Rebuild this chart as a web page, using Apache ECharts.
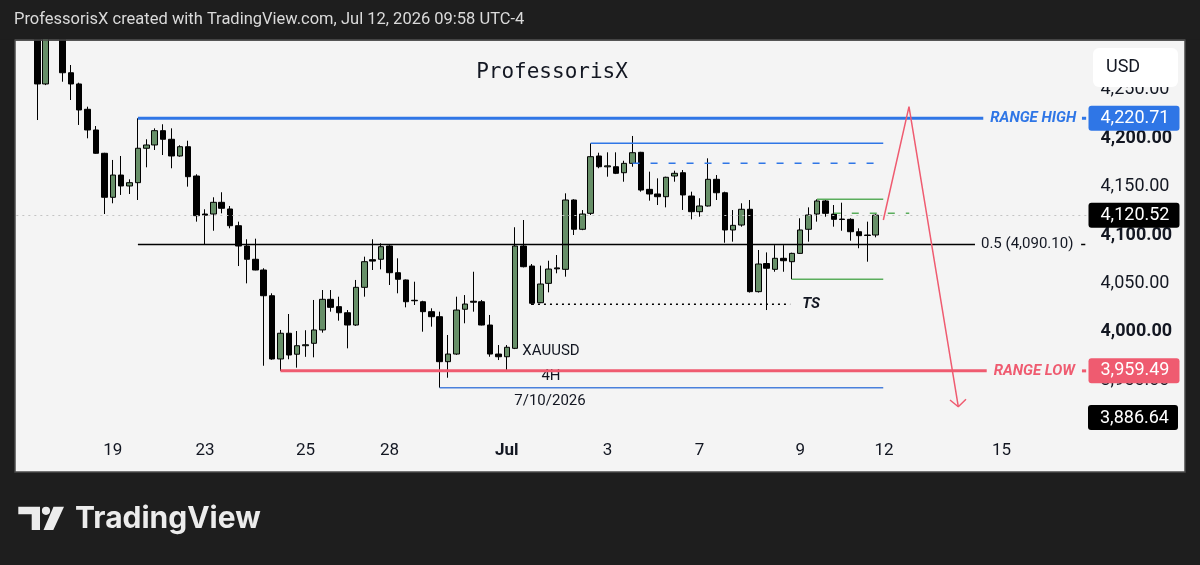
<!DOCTYPE html>
<html>
<head>
<meta charset="utf-8">
<title>XAUUSD 4H - ProfessorisX</title>
<script src="https://cdn.jsdelivr.net/npm/echarts@6/dist/echarts.min.js"></script>
<style>
html, body { margin: 0; padding: 0; background: #1e1e1e; }
#chart { width: 1200px; height: 565px; }
</style>
</head>
<body>
<div id="chart"></div>
<script>
// XAUUSD 4H candles, oldest first
var opens = [4310, 4256.2, 4318, 4308, 4267.8, 4256.2, 4230.0, 4208.6, 4184.5, 4139.0,
  4162.0, 4150.7, 4154.1, 4189.7, 4193.1, 4207.9, 4199.0, 4181.7, 4191.3, 4161.0,
  4121.7, 4121.7, 4133.8, 4126.9, 4109.6, 4088.6, 4074.9, 4063.8, 4037.2, 3971.8,
  3998.4, 3976.7, 3985.5, 3988.0, 4001.8, 4033.5, 4025.9, 4019.6, 4006.9, 4045.9,
  4074.5, 4074.9, 4088.6, 4061.0, 4053.5, 4032.5, 4031.0, 4020.7, 4015.5, 3969.0,
  3976.9, 4023.2, 4031.5, 4031.0, 4006.9, 3976.9, 3974.1, 3982.8, 4088.6, 4067.9,
  4030.0, 4050.0, 4066.0, 4064.5, 4136.2, 4105.9, 4122.4, 4181.7, 4170.5, 4170.6,
  4164.4, 4174.1, 4185.5, 4147.2, 4142.4, 4139.6, 4161.0, 4164.4, 4140.3, 4124.1,
  4130.0, 4157.6, 4143.7, 4105.2, 4110.3, 4126.6, 4041.4, 4070.5, 4064.5, 4075.9,
  4072.4, 4081.0, 4105.9, 4121.7, 4135.2, 4121.7, 4116.5, 4116.2, 4103.4, 4100.0,
  4100.0];
var highs = [4322, 4318, 4340, 4315, 4275.8, 4257.5, 4232.7, 4212.7, 4185.0, 4177.6,
  4181.7, 4157.6, 4220.71, 4199.0, 4210.3, 4214.5, 4210.3, 4192.8, 4197.5, 4162.8,
  4126.6, 4139.0, 4144.2, 4130.0, 4113.8, 4095.6, 4096.2, 4065.6, 4039.7, 4001.8,
  4018.3, 4000.7, 4001.5, 4032.8, 4043.1, 4043.1, 4036.2, 4022.4, 4053.5, 4077.6,
  4095.6, 4091.4, 4089.5, 4075.9, 4054.0, 4051.7, 4032.0, 4024.2, 4020.7, 3996.6,
  4036.2, 4037.9, 4062.0, 4032.8, 4017.3, 3986.2, 3986.2, 4108.0, 4115.5, 4070.0,
  4068.3, 4073.4, 4079.3, 4143.1, 4137.0, 4125.8, 4194.8, 4185.1, 4185.5, 4185.5,
  4176.8, 4202.4, 4186.0, 4165.5, 4158.6, 4160.3, 4166.5, 4167.2, 4144.8, 4138.0,
  4179.3, 4162.0, 4144.8, 4125.8, 4132.8, 4136.2, 4084.5, 4082.0, 4089.5, 4089.5,
  4081.7, 4117.3, 4128.6, 4136.9, 4136.2, 4131.0, 4133.4, 4117.3, 4106.9, 4113.8,
  4121.5];
var lows = [4218.9, 4255, 4305, 4258.5, 4239.6, 4213.8, 4200.0, 4184.0, 4121.7, 4132.8,
  4141.4, 4142.4, 4136.2, 4170.0, 4187.9, 4182.7, 4169.0, 4181.0, 4150.0, 4113.8,
  4090.7, 4104.4, 4122.4, 4106.9, 4067.9, 4050.0, 4063.5, 3964.8, 3971.0, 3959.49,
  3971.5, 3962.8, 3974.0, 3973.5, 3999.0, 4020.7, 4011.4, 3982.8, 4006.0, 4036.2,
  4063.8, 4064.5, 4048.3, 4039.7, 4025.2, 4027.6, 4000.0, 4005.2, 3942.1, 3952.4,
  3976.0, 4008.7, 4020.7, 4006.5, 3974.1, 3970.7, 3959.7, 3982.0, 4066.5, 4027.6,
  4029.5, 4040.7, 4060.4, 4056.9, 4100.0, 4105.0, 4120.7, 4169.0, 4160.3, 4163.0,
  4155.1, 4170.6, 4144.8, 4135.5, 4131.0, 4128.6, 4155.1, 4125.9, 4116.2, 4118.9,
  4129.5, 4136.2, 4092.0, 4093.1, 4108.6, 4040.5, 4040.5, 4022.4, 4062.0, 4062.0,
  4054.2, 4080.5, 4093.1, 4113.8, 4118.9, 4108.6, 4104.4, 4094.1, 4086.3, 4072.4,
  4097.6];
var closes = [4256.2, 4308, 4312, 4267.8, 4256.2, 4229.3, 4208.6, 4184.5, 4139.0, 4162.0,
  4150.7, 4154.1, 4189.7, 4193.1, 4207.9, 4199.0, 4181.7, 4191.3, 4160.3, 4120.0,
  4120.5, 4133.8, 4127.6, 4109.6, 4088.6, 4074.9, 4063.8, 4037.2, 3971.8, 3998.4,
  3975.9, 3985.5, 3986.5, 4001.8, 4033.5, 4025.2, 4019.6, 4006.9, 4045.9, 4072.4,
  4073.0, 4087.9, 4061.0, 4054.2, 4031.0, 4032.0, 4020.7, 4015.5, 3969.0, 3976.9,
  4022.4, 4028.6, 4030.5, 4006.9, 3976.9, 3974.1, 3983.9, 4088.6, 4067.2, 4029.4,
  4049.3, 4064.8, 4065.0, 4136.2, 4105.9, 4121.7, 4181.0, 4170.6, 4171.5, 4163.8,
  4174.1, 4185.1, 4146.5, 4142.4, 4139.6, 4159.7, 4163.8, 4141.4, 4124.1, 4130.0,
  4157.6, 4143.7, 4105.2, 4110.0, 4126.6, 4041.4, 4070.0, 4065.6, 4075.9, 4073.4,
  4081.0, 4105.2, 4120.7, 4135.2, 4122.4, 4116.2, 4116.0, 4103.4, 4099.3, 4099.5,
  4120.52];

// time scale: bar index of each date label
var tickBars = [9, 20, 32, 42, 56, 68, 79, 91, 101, 115];
var tickText = ['19', '23', '25', '28', 'Jul', '3', '7', '9', '12', '15'];

// price scale
var yMin = 3900, yMax = 4300, yStep = 50;

// key levels
var rangeHigh = 4220.71;
var rangeLow = 3959.49;
var midLevel = 4090.10;
var lastPrice = 4120.52;
var targetPrice = 3886.64;

var LEAD = 2;      // empty slots before the first bar
var SLOTS = 128;   // slots visible on the time scale

var BLUE = '#2f76e6', RED = '#ef5b70', GREEN = '#5aad5c', INK = '#131722';

function fmt(v) {
  var p = v.toFixed(2).split('.');
  return p[0].replace(/\B(?=(\d{3})+(?!\d))/g, ',') + '.' + p[1];
}

var cats = [];
for (var i = 0; i < SLOTS; i++) cats.push('');
tickBars.forEach(function (b, j) { cats[b + LEAD] = tickText[j]; });

var candles = cats.map(function (c, i) {
  var k = i - LEAD;
  if (k < 0 || k >= opens.length) return '-';
  return [opens[k], closes[k], lows[k], highs[k]];
});

// drawing tools, x in bar index
function seg(points, style, label) {
  var s = {
    type: 'line',
    xAxisIndex: 1,
    yAxisIndex: 0,
    data: points.map(function (p) { return [p[0] + LEAD, p[1]]; }),
    symbol: 'none',
    silent: true,
    z: 4,
    lineStyle: style
  };
  if (label) s.endLabel = label;
  return s;
}
function tagLabel(text, color, bold) {
  return {
    show: true, formatter: text, color: color, fontFamily: 'Roboto', fontSize: 15,
    fontWeight: bold ? 'bold' : 'normal', fontStyle: bold ? 'italic' : 'normal', distance: 7
  };
}
function priceTag(v, bg) {
  return {
    yAxis: v,
    lineStyle: { color: 'transparent', width: 0 },
    label: {
      show: true, position: 'end', distance: -1, formatter: fmt(v),
      color: '#fff', backgroundColor: bg, fontFamily: 'Roboto', fontSize: 18, lineHeight: 18,
      padding: [4, 10, 3, 12], borderRadius: 3
    }
  };
}

var series = [
  {
    type: 'candlestick',
    data: candles,
    barWidth: 6,
    clip: true,
    itemStyle: { color: '#678f68', color0: '#000', borderColor: '#000', borderColor0: '#000', borderWidth: 1 },
    markLine: {
      silent: true,
      symbol: ['none', 'none'],
      data: [
        Object.assign(priceTag(lastPrice, '#000'), { lineStyle: { color: '#c4c4c4', type: [2, 4], width: 1 } }),
        priceTag(rangeHigh, BLUE),
        priceTag(rangeLow, RED)
      ]
    }
  },
  seg([[12, rangeHigh], [112.83, rangeHigh]], { color: BLUE, width: 3 }, tagLabel('RANGE HIGH', BLUE, true)),
  seg([[124.6, rangeHigh], [125.1, rangeHigh]], { color: BLUE, width: 3 }),
  seg([[29, rangeLow], [113.24, rangeLow]], { color: RED, width: 3 }, tagLabel('RANGE LOW', RED, true)),
  seg([[124.6, rangeLow], [125.1, rangeLow]], { color: RED, width: 3 }),
  seg([[12, midLevel], [111.84, midLevel]], { color: '#000', width: 1.5 },
    Object.assign(tagLabel('0.5 (4,090.10)', INK, false), { distance: 6 })),
  seg([[124.5, midLevel], [125.0, midLevel]], { color: '#000', width: 1.5 }),
  seg([[66, 4194.8], [100.9, 4194.8]], { color: BLUE, width: 1.5 }),
  seg([[71, 4174.1], [100.9, 4174.1]], { color: BLUE, width: 1.5, type: [7, 11] }),
  seg([[48, 3942.1], [100.9, 3942.1]], { color: '#4a80dc', width: 1.5 }),
  seg([[59, 4028.3], [89.8, 4028.3]], { color: '#000', width: 1.5, type: [2, 4] },
    { show: true, formatter: 'TS', color: INK, fontFamily: 'Roboto', fontSize: 15, fontWeight: 'bold', fontStyle: 'italic', distance: 12 }),
  seg([[93, 4136.9], [100.9, 4136.9]], { color: GREEN, width: 1.5 }),
  seg([[90, 4054.2], [100.9, 4054.2]], { color: GREEN, width: 1.5 }),
  seg([[95, 4122.4], [104, 4122.4]], { color: GREEN, width: 1.5, type: [7, 11] }),
  seg([[100.91, 4115.5], [103.97, 4232.7], [109.85, 3922.4]], { color: RED, width: 1.5 }),
  seg([[108.86, 3929.4], [109.85, 3922.4], [110.77, 3930.1]], { color: RED, width: 1.5 })
];

var txt = function (t, x, y, font, fill, align) {
  return { type: 'text', x: x, y: y, silent: true,
    style: { text: t, font: font, fill: fill, align: align || 'left', verticalAlign: 'middle' } };
};

var chart = echarts.init(document.getElementById('chart'));
chart.setOption({
  animation: false,
  backgroundColor: '#1e1e1e',
  grid: { left: 16.34, right: 110.5, top: 41.6, bottom: 136.6, containLabel: false },
  xAxis: [
    {
      type: 'category', data: cats, boundaryGap: true,
      axisLine: { show: false }, axisTick: { show: false }, splitLine: { show: false },
      axisLabel: {
        interval: function (i, v) { return v !== ''; },
        margin: 14, color: INK, fontFamily: 'Roboto', fontSize: 17,
        formatter: function (v) { return v === 'Jul' ? '{b|Jul}' : v; },
        rich: { b: { fontWeight: 'bold', fontFamily: 'Roboto', fontSize: 17, color: INK } }
      }
    },
    { type: 'value', min: -0.5, max: SLOTS - 0.5, show: false }
  ],
  yAxis: {
    type: 'value', position: 'right', min: yMin, max: yMax, interval: yStep, scale: true,
    axisLine: { show: false }, axisTick: { show: false }, splitLine: { show: false },
    axisLabel: {
      margin: 11, color: INK, fontFamily: 'Roboto', fontSize: 18,
      formatter: function (v) {
        if (v <= yMin || v >= yMax) return '';
        return v % 100 === 0 ? '{b|' + fmt(v) + '}' : fmt(v);
      },
      rich: { b: { fontWeight: 'bold', fontFamily: 'Roboto', fontSize: 18, color: INK } }
    }
  },
  series: series,
  graphic: [
    { type: 'rect', z: -10, silent: true, shape: { x: 15, y: 40, width: 1170, height: 432 },
      style: { fill: '#f4f4f4', stroke: '#4a4a4a', lineWidth: 1.5 } },
    // header band masks bars that run above the pane
    { type: 'rect', z: 100, silent: true, shape: { x: 0, y: 0, width: 1200, height: 39.3 }, style: { fill: '#1e1e1e' } },
    { type: 'line', z: 100, silent: true, shape: { x1: 15, y1: 40, x2: 1185, y2: 40 }, style: { stroke: '#4a4a4a', lineWidth: 1.5 } },
    Object.assign(txt('ProfessorisX created with TradingView.com, Jul 12, 2026 09:58 UTC-4', 14, 20, '16.5px Roboto', '#dadada'), { z: 101 }),
    txt('ProfessorisX', 552, 73, '21px "DejaVu Sans Mono"', INK, 'center'),
    txt('XAUUSD', 551, 351, '15px Roboto', INK, 'center'),
    txt('4H', 551, 376, '15px Roboto', INK, 'center'),
    txt('7/10/2026', 550, 401, '15px Roboto', INK, 'center'),
    { type: 'rect', z: 50, silent: true, shape: { x: 1093, y: 48, width: 85, height: 39, r: 6 }, style: { fill: '#ffffff' } },
    Object.assign(txt('USD', 1106, 67, '18px Roboto', INK), { z: 51 }),
    { type: 'rect', z: 50, silent: true, shape: { x: 1088, y: 405, width: 90, height: 25, r: 3 }, style: { fill: '#000' } },
    Object.assign(txt(fmt(targetPrice), 1100, 418, '18px Roboto', '#fff'), { z: 51 }),
    // TradingView logo
    { type: 'polygon', silent: true, shape: { points: [[18.3, 506.7], [40, 506.7], [40, 530], [31.7, 530], [31.7, 514.3], [18.3, 514.3]] }, style: { fill: '#ececec' } },
    { type: 'circle', silent: true, shape: { cx: 46, cy: 510.8, r: 4.1 }, style: { fill: '#ececec' } },
    { type: 'polygon', silent: true, shape: { points: [[53.5, 506.7], [64, 506.7], [53.3, 530], [43.5, 530]] }, style: { fill: '#ececec' } },
    txt('TradingView', 75, 519, 'bold 30px Inter', '#ececec')
  ]
});
</script>
</body>
</html>
